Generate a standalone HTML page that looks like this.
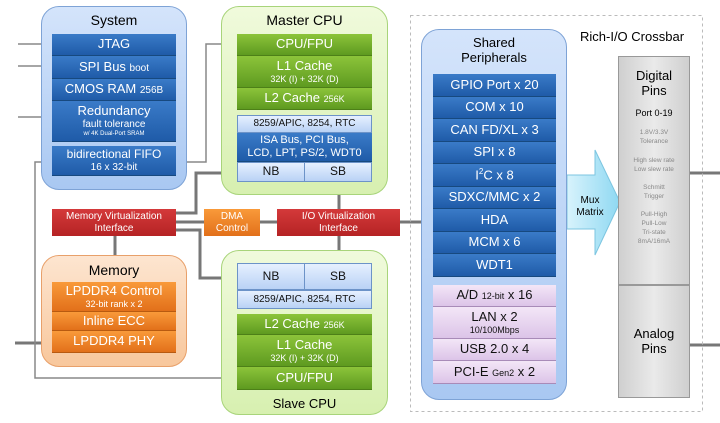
<!DOCTYPE html>
<html><head><meta charset="utf-8"><style>
body{margin:0;width:720px;height:423px;background:#fff;position:relative;overflow:hidden;font-family:"Liberation Sans",sans-serif}
div{box-sizing:border-box}
.a{position:absolute}
.c{display:flex;flex-direction:column;align-items:center;justify-content:center;text-align:center;line-height:1.15}
.bl{background:linear-gradient(#3a7bc8,#1f5ba8);color:#fff;font-size:13px;border-bottom:1px solid #17497f}
.gr{background:linear-gradient(#8cc43a,#5e9a20);color:#fff;font-size:13px;border-bottom:1px solid #4d8018}
.or{background:linear-gradient(#f99a3a,#e2701a);color:#fff;font-size:13px;border-bottom:1px solid #b85a10}
.lb{background:linear-gradient(#e6f0ff,#b9d2f5);color:#111;font-size:12px;border:1px solid #6c93c8}
.pu{background:linear-gradient(#f3e6f7,#dcc4e8);color:#111;font-size:13px;border-bottom:1px solid #a88bb8}
.rd{background:linear-gradient(#d4393a,#b52324);color:#fff;font-size:10px}
small{font-size:9px}
</style></head><body>
<svg class="a" style="left:0;top:0" width="720" height="423">
<g stroke="#777" stroke-width="3" fill="none">
<path d="M237 173H196V213H176"/><path d="M176 230H200V278H237"/>
<path d="M176 222H204M260 222H277M400 222H421"/>
<path d="M339 182V209M339 236V263"/><path d="M115 236V255"/>
<path d="M15 343H52"/><path d="M690 173H720M690 345H720"/>
</g>
<g stroke="#888" stroke-width="1.5" fill="none">
<path d="M18 44H52M18 66H52M18 117H52"/>
<path d="M52 162H35V378H237"/><path d="M176 162H206V44H237"/>
</g>
<rect x="410.5" y="15.5" width="292" height="396" fill="none" stroke="#bbb" stroke-dasharray="3,3"/>
<defs><linearGradient id="ar" x1="0" x2="1"><stop offset="0" stop-color="#d8f3fc"/><stop offset="1" stop-color="#8ed8f2"/></linearGradient></defs>
<path d="M567 175H595V150L620 202L595 255V229H567Z" fill="url(#ar)" stroke="#7cc5e0"/>
</svg>
<!-- System -->
<div class="a" style="left:41px;top:6px;width:146px;height:184px;border-radius:18px;background:linear-gradient(#d4e4fb,#a9c8f2);border:1px solid #7ea3d6"></div>
<div class="a c" style="left:41px;top:12px;width:146px;font-size:14px">System</div>
<div class="a c bl" style="left:52px;top:34px;width:124px;height:22px">JTAG</div>
<div class="a c bl" style="left:52px;top:56px;width:124px;height:23px"><span>SPI Bus <small style="font-size:10px">boot</small></span></div>
<div class="a c bl" style="left:52px;top:79px;width:124px;height:22px"><span>CMOS RAM <small style="font-size:10px">256B</small></span></div>
<div class="a c bl" style="left:52px;top:101px;width:124px;height:41px"><span>Redundancy</span><span style="font-size:10px">fault tolerance</span><span style="font-size:6px">w/ 4K Dual-Port SRAM</span></div>
<div class="a c bl" style="left:52px;top:146px;width:124px;height:30px;font-size:12px"><span>bidirectional FIFO</span><span style="font-size:10px">16 x 32-bit</span></div>
<!-- Master CPU -->
<div class="a" style="left:221px;top:6px;width:167px;height:189px;border-radius:18px;background:linear-gradient(#f0fadc,#d7f0b0);border:1px solid #a8d47a"></div>
<div class="a c" style="left:221px;top:12px;width:167px;font-size:14px">Master CPU</div>
<div class="a c gr" style="left:237px;top:34px;width:135px;height:22px">CPU/FPU</div>
<div class="a c gr" style="left:237px;top:56px;width:135px;height:32px"><span>L1 Cache</span><span style="font-size:9px">32K (I) + 32K (D)</span></div>
<div class="a c gr" style="left:237px;top:88px;width:135px;height:22px"><span>L2 Cache <small>256K</small></span></div>
<div class="a c lb" style="left:237px;top:115px;width:135px;height:18px;font-size:10px">8259/APIC, 8254, RTC</div>
<div class="a c bl" style="left:237px;top:133px;width:135px;height:29px;font-size:11px"><span>ISA Bus, PCI Bus,</span><span>LCD, LPT, PS/2, WDT0</span></div>
<div class="a c lb" style="left:237px;top:162px;width:68px;height:20px">NB</div>
<div class="a c lb" style="left:304px;top:162px;width:68px;height:20px">SB</div>
<!-- Interfaces -->
<div class="a c rd" style="left:52px;top:209px;width:124px;height:27px"><span>Memory Virtualization</span><span>Interface</span></div>
<div class="a c" style="left:204px;top:209px;width:56px;height:27px;background:linear-gradient(#f99a3a,#e2701a);color:#fff;font-size:10px"><span>DMA</span><span>Control</span></div>
<div class="a c rd" style="left:277px;top:209px;width:123px;height:27px"><span>I/O Virtualization</span><span>Interface</span></div>
<!-- Memory -->
<div class="a" style="left:41px;top:255px;width:146px;height:112px;border-radius:18px;background:linear-gradient(#fde5d0,#f8c79c);border:1px solid #e8a06a"></div>
<div class="a c" style="left:41px;top:262px;width:146px;font-size:14px">Memory</div>
<div class="a c or" style="left:52px;top:282px;width:124px;height:30px"><span>LPDDR4 Control</span><span style="font-size:9px">32-bit rank x 2</span></div>
<div class="a c or" style="left:52px;top:312px;width:124px;height:19px">Inline ECC</div>
<div class="a c or" style="left:52px;top:331px;width:124px;height:22px">LPDDR4 PHY</div>
<!-- Slave CPU -->
<div class="a" style="left:221px;top:250px;width:167px;height:165px;border-radius:18px;background:linear-gradient(#f0fadc,#d7f0b0);border:1px solid #a8d47a"></div>
<div class="a c lb" style="left:237px;top:263px;width:68px;height:27px">NB</div>
<div class="a c lb" style="left:304px;top:263px;width:68px;height:27px">SB</div>
<div class="a c lb" style="left:237px;top:290px;width:135px;height:19px;font-size:10px">8259/APIC, 8254, RTC</div>
<div class="a c gr" style="left:237px;top:314px;width:135px;height:21px"><span>L2 Cache <small>256K</small></span></div>
<div class="a c gr" style="left:237px;top:335px;width:135px;height:32px"><span>L1 Cache</span><span style="font-size:9px">32K (I) + 32K (D)</span></div>
<div class="a c gr" style="left:237px;top:367px;width:135px;height:23px">CPU/FPU</div>
<div class="a c" style="left:221px;top:397px;width:167px;font-size:13px">Slave CPU</div>
<!-- Crossbar -->
<div class="a" style="left:580px;top:29px;font-size:13px">Rich-I/O Crossbar</div>
<div class="a" style="left:421px;top:29px;width:146px;height:371px;border-radius:18px;background:linear-gradient(#d4e4fb,#a9c8f2);border:1px solid #7ea3d6"></div>
<div class="a c" style="left:421px;top:36px;width:146px;font-size:13px"><span>Shared</span><span>Peripherals</span></div>
<div class="a c bl" style="left:433px;top:74px;width:123px;height:23px">GPIO Port x 20</div>
<div class="a c bl" style="left:433px;top:97px;width:123px;height:22px">COM x 10</div>
<div class="a c bl" style="left:433px;top:119px;width:123px;height:23px">CAN FD/XL x 3</div>
<div class="a c bl" style="left:433px;top:142px;width:123px;height:22px">SPI x 8</div>
<div class="a c bl" style="left:433px;top:164px;width:123px;height:23px"><span>I<sup style="font-size:8px">2</sup>C x 8</span></div>
<div class="a c bl" style="left:433px;top:187px;width:123px;height:22px">SDXC/MMC x 2</div>
<div class="a c bl" style="left:433px;top:209px;width:123px;height:23px">HDA</div>
<div class="a c bl" style="left:433px;top:232px;width:123px;height:22px">MCM x 6</div>
<div class="a c bl" style="left:433px;top:254px;width:123px;height:23px">WDT1</div>
<div class="a c pu" style="left:433px;top:285px;width:123px;height:22px"><span>A/D <small>12-bit</small> x 16</span></div>
<div class="a c pu" style="left:433px;top:307px;width:123px;height:32px"><span>LAN x 2</span><span style="font-size:9px">10/100Mbps</span></div>
<div class="a c pu" style="left:433px;top:339px;width:123px;height:22px">USB 2.0 x 4</div>
<div class="a c pu" style="left:433px;top:361px;width:123px;height:23px"><span>PCI-E <small>Gen2</small> x 2</span></div>
<div class="a c" style="left:567px;top:195px;width:46px;font-size:10px"><span>Mux</span><span>Matrix</span></div>
<div class="a c" style="left:618px;top:56px;width:72px;height:229px;background:linear-gradient(90deg,#cfcfcf,#eaeaea 50%,#cfcfcf);border:1px solid #999;justify-content:flex-start;padding-top:12px">
<span style="font-size:13px">Digital</span><span style="font-size:13px">Pins</span>
<span style="font-size:9px;margin-top:9px">Port 0-19</span>
<span style="font-size:6.5px;color:#888;margin-top:10px;line-height:1.4">1.8V/3.3V<br>Tolerance<br><br>High slew rate<br>Low slew rate<br><br>Schmitt<br>Trigger<br><br>Pull-High<br>Pull-Low<br>Tri-state<br>8mA/16mA</span></div>
<div class="a c" style="left:618px;top:285px;width:72px;height:113px;background:linear-gradient(90deg,#cfcfcf,#eaeaea 50%,#cfcfcf);border:1px solid #999;font-size:13px"><span>Analog</span><span>Pins</span></div>
</body></html>
